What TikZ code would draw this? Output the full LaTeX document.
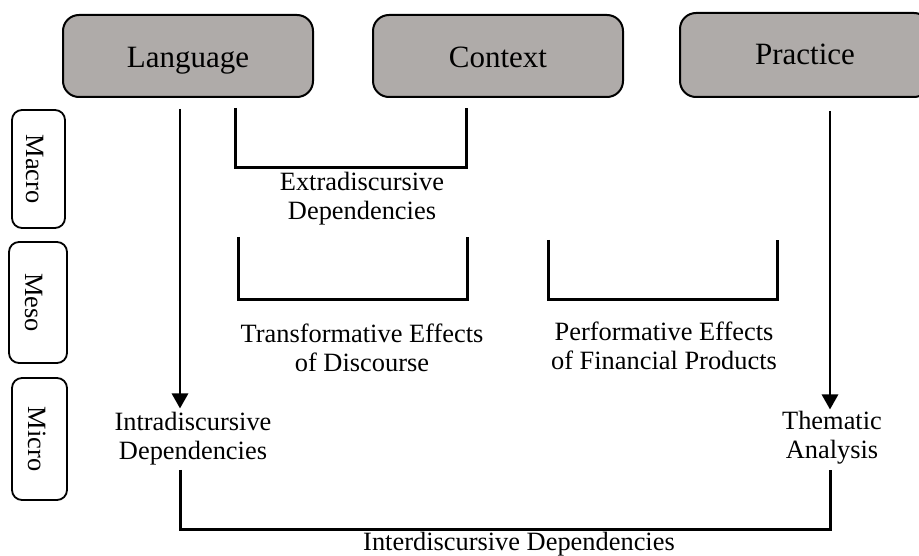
\documentclass[tikz,border=0pt]{standalone}
\usepackage{fontspec}
\setmainfont{Liberation Serif}
\usetikzlibrary{arrows.meta}
\definecolor{boxgray}{RGB}{175,171,169}
\begin{document}
\begin{tikzpicture}[x=1pt,y=-1pt,
  topbox/.style={draw=black, line width=2pt, fill=boxgray, rounded corners=16pt,
    minimum width=250pt, inner sep=0pt, font=\fontsize{31}{36}\selectfont, anchor=base},
  lvlbox/.style={draw=black, line width=1.8pt, fill=white, rounded corners=10pt,
    rotate=-90, inner sep=0pt, font=\fontsize{26.4}{29}\selectfont, anchor=base},
  lbl/.style={font=\fontsize{26.4}{29}\selectfont, align=center, inner sep=0pt, anchor=base},
  conn/.style={line width=3pt},
  arr/.style={line width=2.9pt, -{Triangle[length=15pt,width=16pt]}},
]
\useasboundingbox (0,0) rectangle (919,556);

% top boxes
\node[topbox, text height=53pt, text depth=29pt] (lang) at (188,68) {Language};
\node[topbox, text height=53pt, text depth=29pt] (ctx) at (498,68) {Context};
\node[topbox, text height=52pt, text depth=32pt] (prac) at (805,65) {Practice};

% level boxes
\node[lvlbox, minimum width=118pt, text height=39pt, text depth=14pt] (macro) at (26,169) {Macro};
\node[lvlbox, minimum width=121pt, text height=42pt, text depth=16pt] (meso) at (25,302.5) {Meso};
\node[lvlbox, minimum width=122pt, text height=39pt, text depth=16pt] (micro) at (28,439) {Micro};

% labels (anchor at baseline of last line)
\node[lbl] (extra) at (362,220) {Extradiscursive\\Dependencies};
\node[lbl] (trans) at (362,371) {Transformative Effects\\of Discourse};
\node[lbl] (perf) at (664,370) {Performative Effects\\of Financial Products};
\node[lbl] (intra) at (193,459) {Intradiscursive\\Dependencies};
\node[lbl] (thema) at (832,458) {Thematic\\Analysis};
\node[lbl] (inter) at (519,550) {Interdiscursive Dependencies};

% x positions of connectors
\coordinate (xl) at (180,0);
\coordinate (xp) at (830,0);
\coordinate (e1) at (235,108);
\coordinate (e2) at (466,108);
\coordinate (ebot) at (0,168);
\coordinate (t1) at (238,237);
\coordinate (t2) at (467,237);
\coordinate (p1) at (548,240);
\coordinate (p2) at (777,240);
\coordinate (mbot) at (0,300);
\coordinate (bbot) at (0,529);

% arrows
\draw[arr, shorten <=11pt, shorten >=3pt] (lang.south -| xl) -- (intra.north -| xl);
\draw[arr, shorten <=13pt, shorten >=1pt] (prac.south -| xp) -- (thema.north -| xp);

% brackets
\draw[conn] (e1) -- (e1 |- ebot) -- (e2 |- ebot) -- (e2);
\draw[conn] (t1) -- (t1 |- mbot) -- (t2 |- mbot) -- (t2);
\draw[conn] (p1) -- (p1 |- mbot) -- (p2 |- mbot) -- (p2);
\draw[conn, shorten <=5pt, shorten >=6pt] (intra.south -| xl) -- (xl |- bbot) -- (xp |- bbot) -- (thema.south -| xp);
\end{tikzpicture}
\end{document}
